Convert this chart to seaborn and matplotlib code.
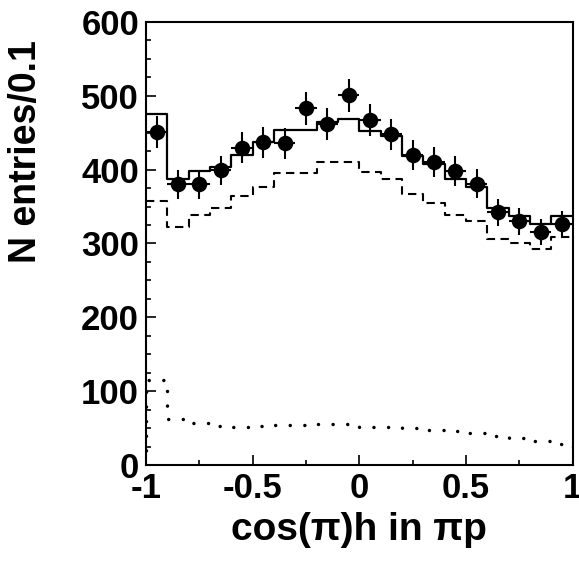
import numpy as np
import pandas as pd
import matplotlib
matplotlib.use("Agg")
import matplotlib.pyplot as plt
from matplotlib.ticker import MultipleLocator
import seaborn as sns

# Bin layout: 20 bins of width 0.1 on [-1, 1]
bin_edges = [round(-1.0 + 0.1 * i, 2) for i in range(21)]
bin_centers = [-0.95, -0.85, -0.75, -0.65, -0.55, -0.45, -0.35, -0.25, -0.15, -0.05,
               0.05, 0.15, 0.25, 0.35, 0.45, 0.55, 0.65, 0.75, 0.85, 0.95]

# Measured entries with statistical errors
data_counts = [451, 380, 380, 399, 430, 437, 436, 483, 462, 501,
               467, 448, 420, 410, 398, 381, 342, 330, 315, 326]
data_errors = [21.2, 19.5, 19.5, 20.0, 20.7, 20.9, 20.9, 22.0, 21.5, 22.4,
               21.6, 21.2, 20.5, 20.2, 19.9, 19.5, 18.5, 18.2, 17.7, 18.1]

# Total fit (solid), signal component (dashed), background component (dotted)
fit_total = [475, 388, 398, 404, 420, 437, 454, 454, 465, 468,
             452, 445, 418, 407, 388, 377, 348, 337, 327, 337]
fit_signal = [357, 323, 338, 348, 364, 376, 396, 396, 410, 410,
              397, 388, 367, 355, 339, 330, 306, 300, 293, 309]
fit_background = [115, 62, 57, 53, 52, 53, 54, 54, 55, 55,
                  52, 51, 50, 48, 46, 43, 39, 36, 33, 28]

x_label = "cos(\u03c0)h in \u03c0p"
y_label = "N entries/0.1"

sns.set_theme(style="white")
plt.rcParams["font.family"] = ["Liberation Sans", "DejaVu Sans"]
plt.rcParams["font.weight"] = "bold"
for key in ["text.color", "axes.labelcolor", "xtick.color", "ytick.color",
            "axes.edgecolor"]:
    plt.rcParams[key] = "black"

fig = plt.figure(figsize=(5.79, 5.61), dpi=100)
ax = fig.add_axes([146 / 579, 1 - 465 / 561, 426.5 / 579, 443 / 561])

hist_df = pd.DataFrame({
    "x": bin_centers,
    "total": fit_total,
    "signal": fit_signal,
    "background": fit_background,
})

sns.histplot(data=hist_df, x="x", weights="total", bins=bin_edges,
             element="step", fill=False, color="black", linewidth=1.6, ax=ax)
sns.histplot(data=hist_df, x="x", weights="signal", bins=bin_edges,
             element="step", fill=False, color="black", linewidth=1.5,
             linestyle=(0, (4.0, 2.6)), ax=ax)
# Background drawn as a dotted outline that also closes down to zero
ax.stairs(fit_background, bin_edges, baseline=0, fill=False, color="black",
          linewidth=2.5, linestyle=(0, (0.01, 4.2)), capstyle="round")

# Data points with error bars
ax.errorbar(bin_centers, data_counts, yerr=data_errors, xerr=0.05,
            fmt="none", ecolor="black", elinewidth=1.5, capsize=0, zorder=4)
sns.scatterplot(x=bin_centers, y=data_counts, color="black", s=125,
                linewidth=0, zorder=5, ax=ax)

ax.set_xlim(-1, 1)
ax.set_ylim(0, 600)
ax.xaxis.set_major_locator(MultipleLocator(0.5))
ax.xaxis.set_minor_locator(MultipleLocator(0.25))
ax.yaxis.set_major_locator(MultipleLocator(100))
ax.yaxis.set_minor_locator(MultipleLocator(25))
ax.set_xticks([-1, -0.5, 0, 0.5, 1])
ax.set_xticklabels(["-1", "-0.5", "0", "0.5", "1"])

ax.tick_params(which="both", direction="in", top=False, right=False,
               left=True, bottom=True, color="black", width=1.2)
ax.tick_params(which="major", length=7.5, labelsize=25, pad=5,
               labelcolor="black")
ax.tick_params(which="minor", length=3.6)
for lab in ax.get_xticklabels() + ax.get_yticklabels():
    lab.set_fontweight("bold")

for side in ["left", "right", "top", "bottom"]:
    ax.spines[side].set_visible(True)
    ax.spines[side].set_color("black")
    ax.spines[side].set_linewidth(1.5)

ax.set_xlabel(x_label, fontsize=28, fontweight="bold", color="black")
ax.set_ylabel(y_label, fontsize=27, fontweight="bold", loc="top", color="black")
ax.xaxis.set_label_coords(0.5, -0.105)
ax.yaxis.set_label_coords(-0.238, 0.96)

fig.savefig("out.png", dpi=100, facecolor="white")
